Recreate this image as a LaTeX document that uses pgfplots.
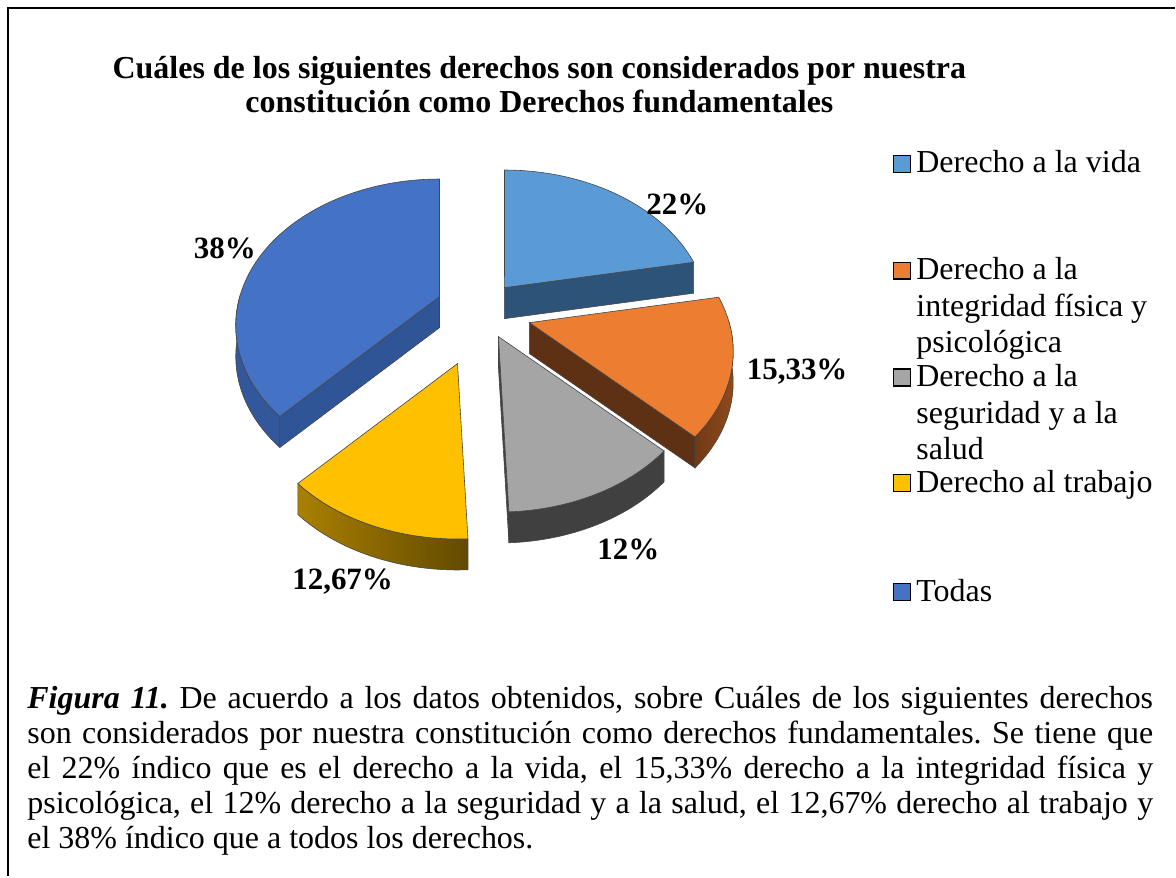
\documentclass[border=0pt]{standalone}
\usepackage{pgfplots}
\pgfplotsset{compat=1.18}
\usepackage{pgfplotstable}
\usepackage{fontspec}
\setmainfont{Liberation Serif}
\frenchspacing

\definecolor{cA}{HTML}{5B9BD5}
\definecolor{cB}{HTML}{ED7D31}
\definecolor{cC}{HTML}{A5A5A5}
\definecolor{cD}{HTML}{FFC000}
\definecolor{cE}{HTML}{4472C4}
\definecolor{sA}{RGB}{46,83,121}
\definecolor{sB}{RGB}{94,48,20}
\definecolor{oB}{RGB}{112,57,22}
\definecolor{sC}{RGB}{66,66,66}
\definecolor{oC}{RGB}{64,64,64}
\definecolor{oDl}{RGB}{170,128,0}
\definecolor{oDr}{RGB}{98,74,0}
\definecolor{sE}{RGB}{48,85,150}
\definecolor{oE}{RGB}{50,88,155}
\definecolor{edge}{RGB}{70,70,70}

% values (percent) and position of each exploded slice (pixel coordinates of its apex)
\pgfplotstableread{
label value ax ay
A 22 505 288
B 15.33 530 323
C 12 499 337
D 12.67 458 364
E 38 440 297
}\piedata

\pgfplotstablegetelem{0}{value}\of\piedata \let\vA\pgfplotsretval
\pgfplotstablegetelem{1}{value}\of\piedata \let\vB\pgfplotsretval
\pgfplotstablegetelem{2}{value}\of\piedata \let\vC\pgfplotsretval
\pgfplotstablegetelem{3}{value}\of\piedata \let\vD\pgfplotsretval
\pgfplotstablegetelem{4}{value}\of\piedata \let\vE\pgfplotsretval
\pgfplotstablegetelem{0}{ax}\of\piedata \let\axA\pgfplotsretval
\pgfplotstablegetelem{1}{ax}\of\piedata \let\axB\pgfplotsretval
\pgfplotstablegetelem{2}{ax}\of\piedata \let\axC\pgfplotsretval
\pgfplotstablegetelem{3}{ax}\of\piedata \let\axD\pgfplotsretval
\pgfplotstablegetelem{4}{ax}\of\piedata \let\axE\pgfplotsretval
\pgfplotstablegetelem{0}{ay}\of\piedata \let\ayA\pgfplotsretval
\pgfplotstablegetelem{1}{ay}\of\piedata \let\ayB\pgfplotsretval
\pgfplotstablegetelem{2}{ay}\of\piedata \let\ayC\pgfplotsretval
\pgfplotstablegetelem{3}{ay}\of\piedata \let\ayD\pgfplotsretval
\pgfplotstablegetelem{4}{ay}\of\piedata \let\ayE\pgfplotsretval

\pgfmathsetmacro{\tO}{90}
\pgfmathsetmacro{\tA}{\tO-3.6*\vA}
\pgfmathsetmacro{\tB}{\tA-3.6*\vB}
\pgfmathsetmacro{\tC}{\tB-3.6*\vC}
\pgfmathsetmacro{\tD}{\tC-3.6*\vD}
\pgfmathsetmacro{\tE}{\tD-3.6*\vE}
\def\pieD{31}

% top face of a slice: apex (#1,#2), arc from #3 to #4
\newcommand{\topface}[5]{%
  \addplot[fill=#5, draw=edge, line width=0.3pt, domain=0:1.1, samples=67]
   ({#1+(x<1.001)*pcx((#3)+((#4)-(#3))*min(x,1))},
    {#2-(x<1.001)*pcy((#3)+((#4)-(#3))*min(x,1))}) -- cycle;
}
% outer curved side, between angles #3 and #4
\newcommand{\band}[5]{%
  \addplot[#5, draw=edge, line width=0.3pt, domain=0:2, samples=80]
   ({#1+pcx((#3)+((#4)-(#3))*min(1,1.02*min(x,2-x)))},
    {#2-pcy((#3)+((#4)-(#3))*min(1,1.02*min(x,2-x)))+\pieD*(x>1)}) -- cycle;
}
% radial cut face at angle #3
\newcommand{\radial}[4]{%
  \addplot[fill=#4, draw=edge, line width=0.3pt, samples at={0,1,2,3}]
   ({#1+pcx(#3)*(x>0.5)*(x<2.5)},
    {#2-pcy(#3)*(x>0.5)*(x<2.5)+\pieD*(x>1.5)}) -- cycle;
}

\begin{document}
\begin{tikzpicture}
\begin{axis}[
  width=588pt, height=438.5pt, scale only axis,
  xmin=0, xmax=1176, ymin=0, ymax=877, y dir=reverse,
  hide axis, clip=false,
  declare function={
    pcx(\t)=200*cos(\t)/(1+0.197*sin(\t));
    pcy(\t)=141*sin(\t)/(1+0.197*sin(\t));
  },
]
\path (axis cs:0,0) rectangle (axis cs:1176,877);
% frame
\draw[line width=1.3pt] (axis cs:8,877) -- (axis cs:8,8) -- (axis cs:1176,8);

% slice A : Derecho a la vida
\radial{\axA}{\ayA}{\tA}{sA}
\topface{\axA}{\ayA}{\tA}{\tO}{cA}
% slice E : Todas
\band{\axE}{\ayE}{-180}{\tD}{fill=oE}
\radial{\axE}{\ayE}{\tD}{sE}
\topface{\axE}{\ayE}{\tE}{\tD}{cE}
% slice B
\radial{\axB}{\ayB}{\tB}{sB}
\band{\axB}{\ayB}{\tB}{0}{left color=oB, right color=oB!75!cB}
\topface{\axB}{\ayB}{\tB}{\tA}{cB}
% slice C
\radial{\axC}{\ayC}{\tC}{sC}
\band{\axC}{\ayC}{\tC}{\tB}{fill=oC}
\topface{\axC}{\ayC}{\tC}{\tB}{cC}
% slice D
\band{\axD}{\ayD}{\tD}{\tC}{left color=oDl, right color=oDr}
\topface{\axD}{\ayD}{\tD}{\tC}{cD}

% data labels
\begin{scope}[every node/.style={font=\bfseries\fontsize{15.5}{18}\selectfont, inner sep=0pt}]
\node at (axis cs:678,205) {22\%};
\node at (axis cs:798,372) {15,33\%};
\node at (axis cs:629,550) {12\%};
\node at (axis cs:343,582) {12,67\%};
\node at (axis cs:225,249) {38\%};
\end{scope}

% title
\begin{scope}[every node/.style={font=\bfseries\fontsize{16}{18}\selectfont, inner sep=0pt, anchor=base}]
\node at (axis cs:540,79) {Cuáles de los siguientes derechos son considerados por nuestra};
\node at (axis cs:540,113) {constitución como Derechos fundamentales};
\end{scope}

% legend
\begin{scope}[every node/.style={font=\fontsize{16}{18}\selectfont, inner sep=0pt, anchor=base west}]
\node at (axis cs:917,173) {Derecho a la vida};
\node at (axis cs:917,280) {Derecho a la};
\node at (axis cs:917,317) {integridad física y};
\node at (axis cs:917,353) {psicológica};
\node at (axis cs:917,387) {Derecho a la};
\node at (axis cs:917,424) {seguridad y a la};
\node at (axis cs:917,460) {salud};
\node at (axis cs:917,493) {Derecho al trabajo};
\node at (axis cs:917,602) {Todas};
\end{scope}
\begin{scope}[every node/.style={draw=black, line width=0.6pt, minimum size=8.5pt, inner sep=0pt, anchor=south west}]
\node[fill=cA] at (axis cs:894,173) {};
\node[fill=cB] at (axis cs:894,280) {};
\node[fill=cC] at (axis cs:894,387) {};
\node[fill=cD] at (axis cs:894,493) {};
\node[fill=cE] at (axis cs:894,602) {};
\end{scope}

% caption
\begin{scope}[every node/.style={font=\fontsize{16}{18}\selectfont, inner sep=0pt, anchor=base west}]
\node at (axis cs:27,709) {\makebox[563.5pt][s]{\textbf{\textit{Figura 11.}} De acuerdo a los datos obtenidos, sobre Cuáles de los siguientes derechos}};
\node at (axis cs:27,744) {\makebox[563.5pt][s]{son considerados por nuestra constitución como derechos fundamentales. Se tiene que}};
\node at (axis cs:27,779) {\makebox[563.5pt][s]{el 22\% índico que es el derecho a la vida, el 15,33\% derecho a la integridad física y}};
\node at (axis cs:27,814) {\makebox[563.5pt][s]{psicológica, el 12\% derecho a la seguridad y a la salud, el 12,67\% derecho al trabajo y}};
\node at (axis cs:27,849) {el 38\% índico que a todos los derechos.};
\end{scope}
\end{axis}
\end{tikzpicture}
\end{document}
